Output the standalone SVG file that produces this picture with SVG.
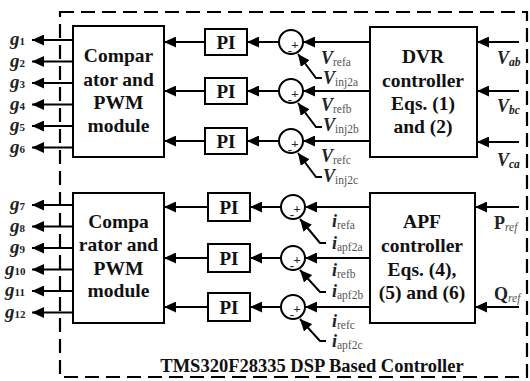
<svg xmlns="http://www.w3.org/2000/svg" width="530" height="381" viewBox="0 0 530 381">
<defs>
<marker id="ah" markerUnits="userSpaceOnUse" markerWidth="13" markerHeight="11" refX="12" refY="5.5" orient="auto">
<path d="M0,0 L12,5.5 L0,11 z" fill="#000"/>
</marker>
<style>
.box{fill:#fff;stroke:#000;stroke-width:2}
.ln{fill:none;stroke:#000;stroke-width:2}
.ar{fill:none;stroke:#000;stroke-width:2;marker-end:url(#ah)}
.t{font-family:"Liberation Serif","Times New Roman",serif;font-weight:bold;font-size:19.5px;text-anchor:middle;fill:#111}
.pi{font-family:"Liberation Serif","Times New Roman",serif;font-weight:bold;font-size:19px;text-anchor:middle;fill:#111}
.g{font-family:"Liberation Serif","Times New Roman",serif;font-style:italic;font-weight:bold;font-size:19px;fill:#222}
.gs{font-size:11px;font-style:normal}
.v{font-family:"Liberation Serif","Times New Roman",serif;font-style:italic;font-weight:bold;font-size:18px;fill:#222}
.vs{font-size:11.5px;font-weight:normal;font-style:normal;fill:#555}
.sg{font-family:"Liberation Serif","Times New Roman",serif;font-size:13px;font-weight:bold;text-anchor:middle;fill:#222}
.ft{font-family:"Liberation Serif","Times New Roman",serif;font-weight:bold;font-size:18.5px;text-anchor:middle;fill:#111}
.frame{fill:none;stroke:#000;stroke-width:2.2;stroke-dasharray:14 7}
</style>
</defs>
<rect width="530" height="381" fill="#fff"/>
<rect class="frame" x="60" y="12" width="467" height="365"/>

<g id="connectors">
<line class="ar" x1="73" y1="40" x2="32" y2="40"/>
<line class="ar" x1="73" y1="61.5" x2="32" y2="61.5"/>
<line class="ar" x1="73" y1="83" x2="32" y2="83"/>
<line class="ar" x1="73" y1="104.5" x2="32" y2="104.5"/>
<line class="ar" x1="73" y1="126" x2="32" y2="126"/>
<line class="ar" x1="73" y1="147.5" x2="32" y2="147.5"/>
<line class="ar" x1="73" y1="205" x2="32" y2="205"/>
<line class="ar" x1="73" y1="226.5" x2="32" y2="226.5"/>
<line class="ar" x1="73" y1="248" x2="32" y2="248"/>
<line class="ar" x1="73" y1="269.5" x2="32" y2="269.5"/>
<line class="ar" x1="73" y1="291" x2="32" y2="291"/>
<line class="ar" x1="73" y1="312.5" x2="32" y2="312.5"/>
<line class="ar" x1="205" y1="42" x2="164" y2="42"/>
<line class="ar" x1="205" y1="91" x2="164" y2="91"/>
<line class="ar" x1="205" y1="141" x2="164" y2="141"/>
<line class="ar" x1="279" y1="42" x2="247" y2="42"/>
<line class="ar" x1="279" y1="91" x2="247" y2="91"/>
<line class="ar" x1="279" y1="141" x2="247" y2="141"/>
<line class="ar" x1="370" y1="42" x2="303" y2="42"/>
<line class="ar" x1="370" y1="91" x2="303" y2="91"/>
<line class="ar" x1="370" y1="141" x2="303" y2="141"/>
<polyline class="ar" points="322,78 316,78 298,54"/>
<polyline class="ar" points="322,127 316,127 298,103"/>
<polyline class="ar" points="322,177 316,177 298,153"/>
<line class="ar" x1="519" y1="42" x2="477" y2="42"/>
<line class="ar" x1="519" y1="91" x2="477" y2="91"/>
<line class="ar" x1="519" y1="142" x2="477" y2="142"/>
<line class="ar" x1="208" y1="207" x2="164" y2="207"/>
<line class="ar" x1="208" y1="258" x2="164" y2="258"/>
<line class="ar" x1="208" y1="307" x2="164" y2="307"/>
<line class="ar" x1="281" y1="207" x2="250" y2="207"/>
<line class="ar" x1="281" y1="258" x2="250" y2="258"/>
<line class="ar" x1="281" y1="307" x2="250" y2="307"/>
<line class="ar" x1="370" y1="207" x2="305" y2="207"/>
<line class="ar" x1="370" y1="258" x2="305" y2="258"/>
<line class="ar" x1="370" y1="307" x2="305" y2="307"/>
<polyline class="ar" points="326,243 320,243 300,219"/>
<polyline class="ar" points="326,292 320,292 300,270"/>
<polyline class="ar" points="326,341 320,341 300,319"/>
<line class="ar" x1="519" y1="207" x2="475" y2="207"/>
<line class="ar" x1="519" y1="307" x2="475" y2="307"/>
</g>

<g id="comp1">
<rect class="box" x="73" y="26" width="91" height="131"/>
<text class="t" x="118.5" y="62">Compar</text>
<text class="t" x="118.5" y="85.5">ator and</text>
<text class="t" x="118.5" y="108.5">PWM</text>
<text class="t" x="118.5" y="131.5">module</text>
</g>
<g id="comp2">
<rect class="box" x="73" y="193" width="91" height="130"/>
<text class="t" x="118.5" y="228">Compa</text>
<text class="t" x="118.5" y="251">rator and</text>
<text class="t" x="118.5" y="275">PWM</text>
<text class="t" x="118.5" y="297">module</text>
</g>

<g id="pi1"><rect class="box" x="205" y="29" width="42" height="26"/><text class="pi" x="226" y="49">PI</text></g>
<g id="pi2"><rect class="box" x="205" y="78" width="42" height="26"/><text class="pi" x="226" y="98">PI</text></g>
<g id="pi3"><rect class="box" x="205" y="128" width="42" height="26"/><text class="pi" x="226" y="148">PI</text></g>
<g id="pi4"><rect class="box" x="208" y="193" width="42" height="28"/><text class="pi" x="229" y="214">PI</text></g>
<g id="pi5"><rect class="box" x="208" y="244" width="42" height="28"/><text class="pi" x="229" y="265">PI</text></g>
<g id="pi6"><rect class="box" x="208" y="293" width="42" height="28"/><text class="pi" x="229" y="314">PI</text></g>

<g id="sum1"><circle class="box" cx="291" cy="42" r="12"/><text class="sg" x="295" y="49">+</text><text class="sg" x="290" y="55">-</text></g>
<g id="sum2"><circle class="box" cx="291" cy="91" r="12"/><text class="sg" x="295" y="98">+</text><text class="sg" x="290" y="104">-</text></g>
<g id="sum3"><circle class="box" cx="291" cy="141" r="12"/><text class="sg" x="295" y="148">+</text><text class="sg" x="290" y="154">-</text></g>
<g id="sum4"><circle class="box" cx="293" cy="207" r="12"/><text class="sg" x="297" y="213">+</text><text class="sg" x="292" y="219">-</text></g>
<g id="sum5"><circle class="box" cx="293" cy="258" r="12"/><text class="sg" x="297" y="264">+</text><text class="sg" x="292" y="270">-</text></g>
<g id="sum6"><circle class="box" cx="293" cy="307" r="12"/><text class="sg" x="297" y="313">+</text><text class="sg" x="292" y="319">-</text></g>

<g id="dvr">
<rect class="box" x="370" y="27" width="107" height="130"/>
<text class="t" x="423" y="63">DVR</text>
<text class="t" x="423" y="87">controller</text>
<text class="t" x="423" y="110">Eqs. (1)</text>
<text class="t" x="423" y="133">and (2)</text>
</g>
<g id="apf">
<rect class="box" x="370" y="193" width="105" height="130"/>
<text class="t" x="422" y="228">APF</text>
<text class="t" x="422" y="252">controller</text>
<text class="t" x="422" y="276">Eqs. (4),</text>
<text class="t" x="422" y="299">(5) and (6)</text>
</g>

<g id="labels">
<text class="g" x="10" y="45">g<tspan class="gs">1</tspan></text>
<text class="g" x="10" y="66.5">g<tspan class="gs">2</tspan></text>
<text class="g" x="10" y="88">g<tspan class="gs">3</tspan></text>
<text class="g" x="10" y="109.5">g<tspan class="gs">4</tspan></text>
<text class="g" x="10" y="131">g<tspan class="gs">5</tspan></text>
<text class="g" x="10" y="152.5">g<tspan class="gs">6</tspan></text>
<text class="g" x="10" y="210">g<tspan class="gs">7</tspan></text>
<text class="g" x="10" y="231.5">g<tspan class="gs">8</tspan></text>
<text class="g" x="10" y="253">g<tspan class="gs">9</tspan></text>
<text class="g" x="5" y="274.5">g<tspan class="gs">10</tspan></text>
<text class="g" x="5" y="296">g<tspan class="gs">11</tspan></text>
<text class="g" x="5" y="317.5">g<tspan class="gs">12</tspan></text>

<text class="v" x="321" y="64">V<tspan class="vs" dy="2">refa</tspan></text>
<text class="v" x="323" y="84">V<tspan class="vs" dy="2">inj2a</tspan></text>
<text class="v" x="321" y="111">V<tspan class="vs" dy="2">refb</tspan></text>
<text class="v" x="323" y="131">V<tspan class="vs" dy="2">inj2b</tspan></text>
<text class="v" x="321" y="162">V<tspan class="vs" dy="2">refc</tspan></text>
<text class="v" x="323" y="182">V<tspan class="vs" dy="2">inj2c</tspan></text>

<text class="v" x="497" y="64">V<tspan class="vs" dy="2" style="font-style:italic;font-weight:bold;fill:#222">ab</tspan></text>
<text class="v" x="497" y="112">V<tspan class="vs" dy="2" style="font-style:italic;font-weight:bold;fill:#222">bc</tspan></text>
<text class="v" x="497" y="166">V<tspan class="vs" dy="2" style="font-style:italic;font-weight:bold;fill:#222">ca</tspan></text>

<text class="v" x="332" y="227">i<tspan class="vs" dy="2">refa</tspan></text>
<text class="v" x="332" y="249">i<tspan class="vs" dy="2">apf2a</tspan></text>
<text class="v" x="332" y="276">i<tspan class="vs" dy="2">refb</tspan></text>
<text class="v" x="332" y="297">i<tspan class="vs" dy="2">apf2b</tspan></text>
<text class="v" x="332" y="327">i<tspan class="vs" dy="2">refc</tspan></text>
<text class="v" x="332" y="347">i<tspan class="vs" dy="2">apf2c</tspan></text>

<text class="v" x="494" y="229" style="font-style:normal">P<tspan class="vs" dy="2" style="font-style:italic">ref</tspan></text>
<text class="v" x="494" y="300" style="font-style:normal">Q<tspan class="vs" dy="2" style="font-style:italic">ref</tspan></text>

<text class="ft" x="312" y="372">TMS320F28335 DSP Based Controller</text>
</g>
</svg>
